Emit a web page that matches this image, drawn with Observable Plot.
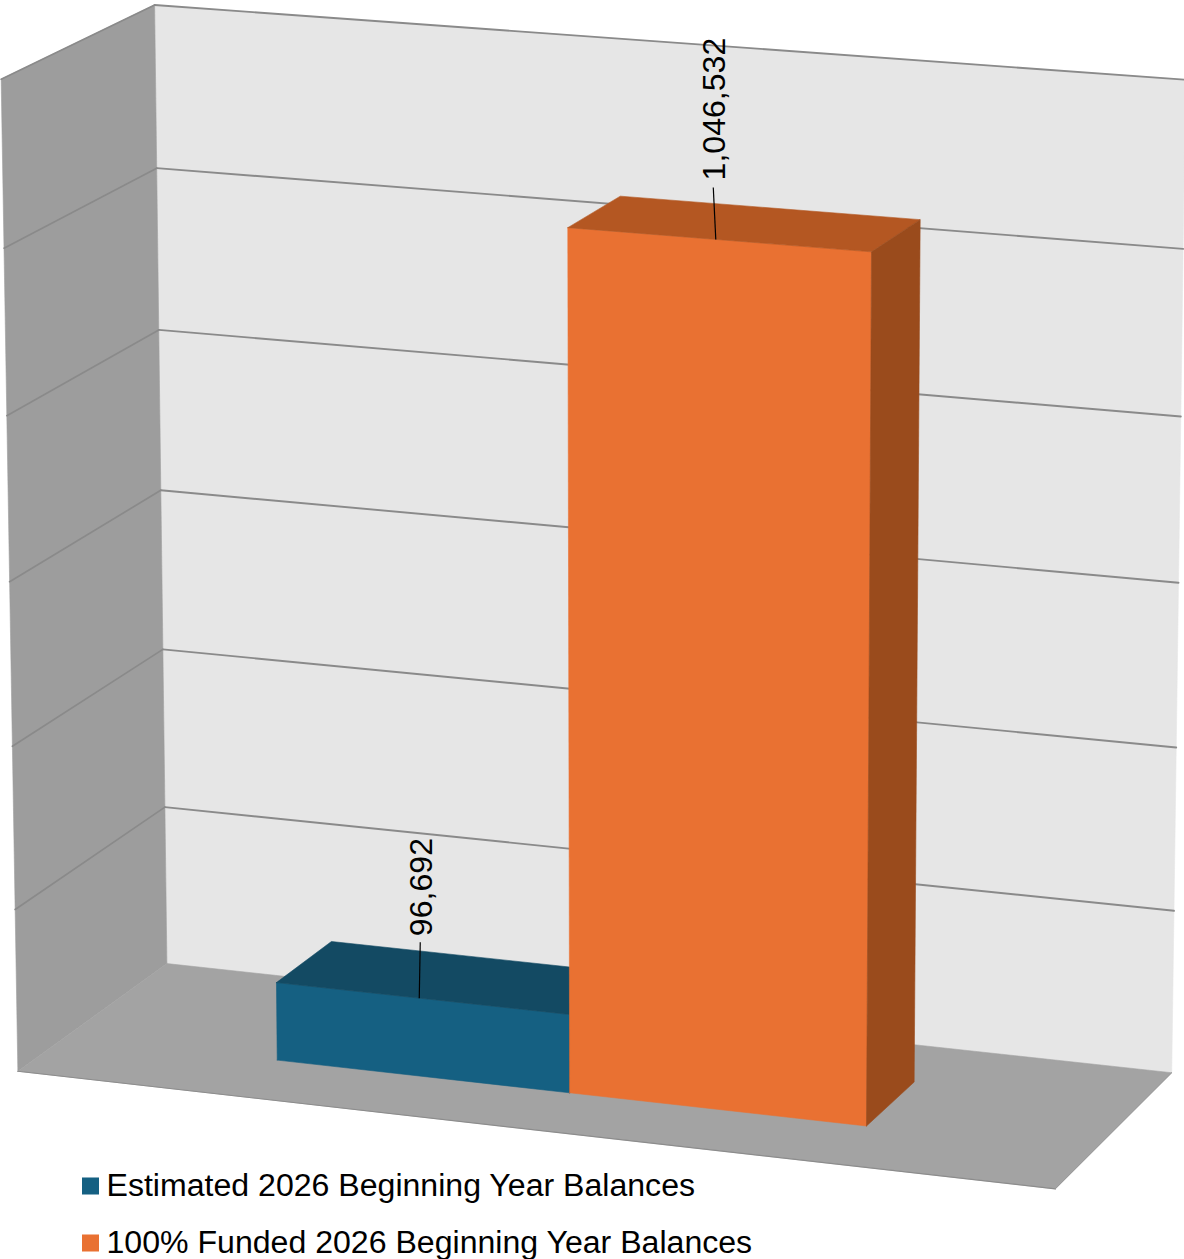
<!DOCTYPE html>
<html><head><meta charset="utf-8">
<script src="https://cdn.jsdelivr.net/npm/d3@7"></script>
<script src="https://cdn.jsdelivr.net/npm/@observablehq/plot@0.6"></script>
<style>html,body{margin:0;padding:0;background:#fff}svg{display:block}</style>
</head><body><div id="chart"></div>
<script>
// Data
const categories = ["Estimated 2026 Beginning Year Balances", "100% Funded 2026 Beginning Year Balances"];
const values = [96692, 1046532];
const valueLabels = ["96,692", "1,046,532"];
const axisTicks = [0, 200000, 400000, 600000, 800000, 1000000, 1200000];
// Bar footprints on the floor (fractions of plot width / depth)
const barU = [[0.212, 0.5], [0.5, 0.786]];
const barW = [0.30, 0.685];
const barFit = 0.9965;
const frontColors = ["#156082", "#e97132"];
const topColors = ["#134a63", "#b45722"];
const sideColors = ["#0f4a63", "#9a4b1c"];
const leaderLen = [56, 52];
const labelGap = [6, 7];

// Camera calibration: (u, value fraction, depth) -> picture position
const calib = [
  [0,0,0,167,963],[0,1,0,153,5],[1,0,0,1172,1071],[1,1,0,1185,79],
  [0,0,1,17,1071],[0,1,1,2,78],[1,0,1,1054,1189],
  [0,.5,0,160,490],[1,.5,0,1178,583],[0,.5,1,9,581]
];
function solveCamera(pts){
  const A=[],b=[];
  for(const [u,v,w,x,y] of pts){
    A.push([u,v,w,1,0,0,0,0,-x*u,-x*v,-x*w]);b.push(x);
    A.push([0,0,0,0,u,v,w,1,-y*u,-y*v,-y*w]);b.push(y);
  }
  const n=11,M=[];
  for(let i=0;i<n;i++){M.push(new Array(n+1).fill(0));
    for(let j=0;j<n;j++)for(let r=0;r<A.length;r++)M[i][j]+=A[r][i]*A[r][j];
    for(let r=0;r<A.length;r++)M[i][n]+=A[r][i]*b[r];}
  for(let c=0;c<n;c++){let p=c;for(let r=c+1;r<n;r++)if(Math.abs(M[r][c])>Math.abs(M[p][c]))p=r;
    [M[c],M[p]]=[M[p],M[c]];
    for(let r=0;r<n;r++)if(r!==c){const f=M[r][c]/M[c][c];for(let k=c;k<=n;k++)M[r][k]-=f*M[c][k];}}
  return M.map((row,i)=>row[n]/row[i]);
}
const h=solveCamera(calib);
const vScale=d3.scaleLinear([0,1200000],[0,1]);
const P=(u,val,w)=>{const v=vScale(val),d=h[8]*u+h[9]*v+h[10]*w+1;
  return [(h[0]*u+h[1]*v+h[2]*w+h[3])/d,(h[4]*u+h[5]*v+h[6]*w+h[7])/d];};
const vmax=axisTicks[axisTicks.length-1];
const face=(pts,color)=>{const p=[...pts,pts[0]];
  return Plot.line(p,{x:d=>d[0],y:d=>d[1],fill:color,stroke:color,strokeWidth:0.6,curve:"linear"});};
const gridColor="#8a8a8a";
const gridBack=axisTicks.map(t=>[P(0,t,0),P(1,t,0)]);
const gridSide=axisTicks.map(t=>[P(0,t,1),P(0,t,0)]);
const seg=(s,c,w)=>Plot.line(s,{x:d=>d[0],y:d=>d[1],stroke:c,strokeWidth:w});

const barMarks=values.flatMap((value,i)=>{
  const val=value*barFit;
  const [u0,u1]=barU[i],[wb,wf]=barW;
  return [
    face([P(u0,0,wf),P(u1,0,wf),P(u1,val,wf),P(u0,val,wf)],frontColors[i]),
    face([P(u0,val,wf),P(u1,val,wf),P(u1,val,wb),P(u0,val,wb)],topColors[i]),
    face([P(u1,0,wf),P(u1,0,wb),P(u1,val,wb),P(u1,val,wf)],sideColors[i])
  ];
});
const leaders=values.map((value,i)=>{
  const c=P(barU[i][0]+0.49*(barU[i][1]-barU[i][0]),value*barFit,barW[1]);
  return {x1:c[0],y1:c[1],x2:c[0]-(i?2.5:-1),y2:c[1]-leaderLen[i],label:valueLabels[i],gap:labelGap[i]};});

const legendRows=categories.map((name,i)=>({name,color:frontColors[i],row:i}));
const legendX=90, legendTextX=106, legendY=[1185.5,1242.5];

const plot=Plot.plot({
  width:1184,height:1259,margin:0,
  x:{domain:[0,1184],range:[0,1184],axis:null},
  y:{domain:[0,1259],range:[0,1259],axis:null},
  style:{fontFamily:"'Liberation Sans',Arial,sans-serif",background:"#fff"},
  marks:[
    face([P(0,0,0),P(1,0,0),P(1,vmax,0),P(0,vmax,0)],"#e6e6e6"),
    face([P(0,0,1),P(0,0,0),P(0,vmax,0),P(0,vmax,1)],"#9d9d9d"),
    face([P(0,0,0),P(1,0,0),P(1,0,1),P(0,0,1)],"#a3a3a3"),
    ...gridBack.slice(1).map(s=>seg(s,gridColor,1.9)),
    ...gridSide.slice(1).map(s=>seg(s,gridColor,1.7)),
    seg([P(0,0,1),P(1,0,1)],"#8c8c8c",1.2),
    seg([P(1,0,1),P(1,0,0)],"#969696",1),
    ...barMarks,
    Plot.link(leaders,{x1:"x1",y1:"y1",x2:"x2",y2:"y2",stroke:"#000",strokeWidth:1.2}),
    Plot.text(leaders,{x:d=>d.x2+1,y:d=>d.y2-d.gap,text:"label",rotate:-90,textAnchor:"start",lineAnchor:"middle",fontSize:32.1,fill:"#000"}),
    Plot.dot(legendRows,{x:()=>legendX,y:d=>legendY[d.row],symbol:"square",r:9.6,fill:"color"}),
    Plot.text(legendRows,{x:()=>legendTextX,y:d=>legendY[d.row],text:"name",textAnchor:"start",lineAnchor:"middle",fontSize:32.1,fill:"#000"})
  ]
});
document.getElementById("chart").append(plot);
</script></body></html>
